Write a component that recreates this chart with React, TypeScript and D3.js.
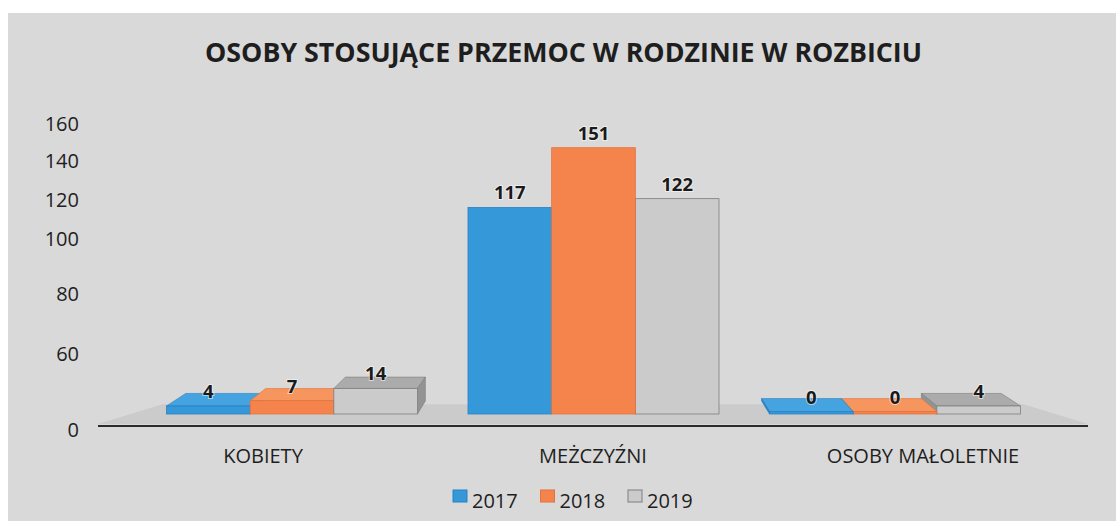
import React from "react";
import * as d3 from "d3";

const categories = ["KOBIETY", "MEŻCZYŹNI", "OSOBY MAŁOLETNIE"];
const years = ["2017", "2018", "2019"];
const values2017 = [4, 117, 0];
const values2018 = [7, 151, 0];
const values2019 = [14, 122, 4];
const yTickLabels = [0, 60, 80, 100, 120, 140, 160];
const title = "OSOBY STOSUJĄCE PRZEMOC W RODZINIE W ROZBICIU";

const seriesValues = [values2017, values2018, values2019];
const frontColors = ["#3598d9", "#f5844c", "#cbcbcb"];
const topColors = ["#45a3e0", "#f7955f", "#ababab"];
const sideColors = ["#2a7fbd", "#d86c36", "#939393"];
const strokeColors = ["#2a82c2", "#e2733c", "#7e7e7e"];

const W = 1116;
const H = 521;
const FONT = "'Open Sans', 'DejaVu Sans', sans-serif";

// perspective
const VP = { x: 593, y: 227 };
const RX = 0.955;
const RY = 0.93;
const back = (x: number, y: number, rx = RX, ry = RY): [number, number] => [
  VP.x + (x - VP.x) * rx,
  VP.y + (y - VP.y) * ry,
];
const pts = (p: [number, number][]) => p.map((d) => d.join(",")).join(" ");

export default function App() {
  const x0 = d3.scaleBand<string>().domain(categories).range([116, 1071]).padding(0.1675);
  const x1 = d3.scaleBand<string>().domain(years).range([0, x0.bandwidth()]).padding(0);
  const y = d3.scaleLinear().domain([0, 160]).range([413, 413 - 160 * 1.757]);
  const xFront = d3.scaleBand<string>().domain(categories).range([98, 1088]).padding(0);
  const yTick = d3
    .scaleLinear()
    .domain(yTickLabels)
    .range([430, 353.5, 293.5, 238.5, 200, 161, 123.5]);

  type Bar = { ci: number; si: number; v: number; xa: number; xb: number; yt: number; yb: number };
  const bars: Bar[] = [];
  categories.forEach((c, ci) => {
    years.forEach((yr, si) => {
      const v = seriesValues[si][ci];
      const xa = (x0(c) as number) + (x1(yr) as number);
      const yb = y(0) + 1;
      bars.push({ ci, si, v, xa, xb: xa + x1.bandwidth(), yt: Math.min(y(v), yb - 2.5), yb });
    });
  });
  const order = [...bars].sort(
    (a, b) => Math.abs((b.xa + b.xb) / 2 - VP.x) - Math.abs((a.xa + a.xb) / 2 - VP.x)
  );

  // floor
  const fL: [number, number] = [98, 424];
  const fR: [number, number] = [1088, 424];
  const floor = [fL, fR, back(fR[0], fR[1], 0.87, 0.9), back(fL[0], fL[1], 0.87, 0.9)];

  return (
    <svg
      width={W}
      height={H}
      style={{ position: "absolute", left: 0, top: 0, display: "block" }}
      fontFamily={FONT}
    >
      <rect x={0} y={0} width={W} height={H} fill="#ffffff" />
      <rect x={8} y={13} width={W - 8} height={H - 13} fill="#d9d9d9" />

      <text
        x={563.5}
        y={62}
        textAnchor="middle"
        fontSize={26.5}
        fontWeight={700}
        fill="#1e1e1e"
        textLength={717}
        lengthAdjust="spacingAndGlyphs"
      >
        {title}
      </text>

      {yTickLabels.map((t) => (
        <text key={t} x={79} y={yTick(t)} dy="0.36em" textAnchor="end" fontSize={20} fill="#1e1e1e">
          {t}
        </text>
      ))}

      <polygon points={pts(floor as [number, number][])} fill="#cbcbcb" />
      <line x1={98} x2={1088} y1={426} y2={426} stroke="#2b2b2b" strokeWidth={2.2} />

      {order.map((b, i) => {
        const { si, xa, xb, yt, yb } = b;
        const faces: React.ReactNode[] = [];
        if (yt > VP.y) {
          faces.push(
            <polygon
              key="t"
              points={pts([[xa, yt], [xb, yt], back(xb, yt), back(xa, yt)])}
              fill={topColors[si]}
              stroke={strokeColors[si]}
              strokeWidth={0.6}
            />
          );
        }
        if (xb < VP.x) {
          faces.push(
            <polygon
              key="s"
              points={pts([[xb, yt], [xb, yb], back(xb, yb), back(xb, yt)])}
              fill={sideColors[si]}
              stroke={strokeColors[si]}
              strokeWidth={0.6}
            />
          );
        } else if (xa > VP.x) {
          faces.push(
            <polygon
              key="s"
              points={pts([[xa, yt], [xa, yb], back(xa, yb), back(xa, yt)])}
              fill={sideColors[si]}
              stroke={strokeColors[si]}
              strokeWidth={0.6}
            />
          );
        }
        faces.push(
          <rect
            key="f"
            x={xa}
            y={yt}
            width={xb - xa}
            height={yb - yt}
            fill={frontColors[si]}
            stroke={strokeColors[si]}
            strokeWidth={0.8}
          />
        );
        return <g key={i}>{faces}</g>;
      })}

      {bars.map((b, i) => (
        <text
          key={"l" + i}
          x={(b.xa + b.xb) / 2}
          y={b.yt - 8}
          textAnchor="middle"
          fontSize={18.5}
          fontWeight={700}
          fill="#1a1a1a"
          stroke="#ffffff"
          strokeOpacity={0.55}
          strokeWidth={2}
          paintOrder="stroke"
        >
          {b.v}
        </text>
      ))}

      {categories.map((c) => (
        <text
          key={c}
          x={(xFront(c) as number) + xFront.bandwidth() / 2}
          y={463}
          textAnchor="middle"
          fontSize={20}
          fill="#1e1e1e"
        >
          {c}
        </text>
      ))}

      {years.map((yr, i) => {
        const lx = 453 + i * 87.5;
        return (
          <g key={yr}>
            <rect x={lx} y={490} width={14} height={12} fill={frontColors[i]} stroke={strokeColors[i]} strokeWidth={1} />
            <text x={lx + 19} y={508} fontSize={20} fill="#1e1e1e">
              {yr}
            </text>
          </g>
        );
      })}
    </svg>
  );
}
